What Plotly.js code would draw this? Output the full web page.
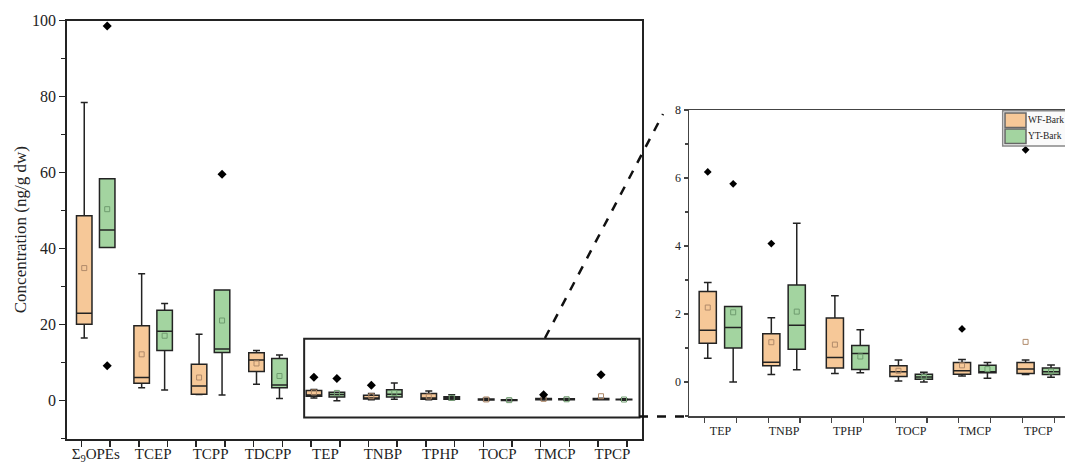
<!DOCTYPE html>
<html>
<head>
<meta charset="utf-8">
<script src="https://cdn.plot.ly/plotly-3.0.1.min.js"></script>
<style>html,body{margin:0;padding:0;background:#fff;}#chart{width:1065px;height:464px;}</style>
</head>
<body>
<div id="chart"></div>
<script>
// ---- data ----
const categories = ['Σ<sub>9</sub>OPEs','TCEP','TCPP','TDCPP','TEP','TNBP','TPHP','TOCP','TMCP','TPCP'];
const insetCategories = ['TEP','TNBP','TPHP','TOCP','TMCP','TPCP'];
const seriesNames = ['WF-Bark','YT-Bark'];

const wfUpper  = [78.5, 33.4, 17.5, 13.2, 2.93, 1.89, 2.54, 0.65, 0.66, 0.65];
const wfQ3     = [48.7, 19.7,  9.6, 12.6, 2.66, 1.42, 1.88, 0.48, 0.57, 0.57];
const wfMedian = [23.0,  6.1,  3.9, 10.7, 1.52, 0.58, 0.72, 0.30, 0.33, 0.38];
const wfQ1     = [20.1,  4.6,  1.7,  7.7, 1.14, 0.48, 0.41, 0.16, 0.23, 0.25];
const wfLower  = [16.5,  3.4,  1.6,  4.3, 0.70, 0.22, 0.25, 0.03, 0.18, 0.22];
const wfMean   = [34.9, 12.2,  6.1,  9.8, 2.19, 1.17, 1.10, 0.33, 0.49, 1.18];
const wfOutlierCat = ['TEP','TNBP','TMCP','TPCP'];
const wfOutlierVal = [6.18, 4.07, 1.56, 6.83];

const ytUpper  = [58.4, 25.6, 29.1, 12.0, 2.22, 4.67, 1.54, 0.29, 0.57, 0.50];
const ytQ3     = [58.4, 23.8, 29.1, 11.1, 2.22, 2.85, 1.07, 0.23, 0.49, 0.41];
const ytMedian = [44.9, 18.3, 13.6,  4.1, 1.60, 1.67, 0.84, 0.15, 0.30, 0.30];
const ytQ1     = [40.3, 13.2, 12.7,  3.4, 1.00, 0.96, 0.37, 0.08, 0.27, 0.22];
const ytLower  = [40.3,  2.8,  1.5,  0.6, 0.00, 0.36, 0.27, 0.00, 0.11, 0.14];
const ytMean   = [50.4, 17.1, 21.1,  6.5, 2.05, 2.07, 0.75, 0.15, 0.38, 0.31];
const ytOutlierCat = ['Σ<sub>9</sub>OPEs','Σ<sub>9</sub>OPEs','TCPP','TEP'];
const ytOutlierVal = [98.6, 9.2, 59.6, 5.83];

// ---- styling ----
const FONT = 'Liberation Serif, Times New Roman, serif';
const INK = '#232323';
const colors = {fill:['#f6c898','#a3d4a0'], mean:['#b08a6a','#6f9c6f']};
const OFF = 0.2, BOXW = 0.27;

const series = [
  {upper:wfUpper,q3:wfQ3,med:wfMedian,q1:wfQ1,lower:wfLower,mean:wfMean,oc:wfOutlierCat,ov:wfOutlierVal,sign:-1},
  {upper:ytUpper,q3:ytQ3,med:ytMedian,q1:ytQ1,lower:ytLower,mean:ytMean,oc:ytOutlierCat,ov:ytOutlierVal,sign:1}
];

const traces = [];
function addPanel(idxList, xa, ya, msize){
  series.forEach((s,k)=>{
    const xs = idxList.map((ci,j)=>j + s.sign*OFF);
    const pick = a => idxList.map(ci=>a[ci]);
    traces.push({type:'box', name:seriesNames[k], showlegend:false, xaxis:xa, yaxis:ya,
      x:xs, q1:pick(s.q1), median:pick(s.med), q3:pick(s.q3),
      lowerfence:pick(s.lower), upperfence:pick(s.upper),
      width:BOXW, whiskerwidth:0.45, boxpoints:false,
      fillcolor:colors.fill[k], line:{color:INK,width:1.5}, hoverinfo:'skip'});
    traces.push({type:'scatter', mode:'markers', showlegend:false, xaxis:xa, yaxis:ya,
      x:xs, y:pick(s.mean), marker:{symbol:'square-open',size:5,color:colors.mean[k],line:{width:1}}, hoverinfo:'skip'});
    const ox=[], oy=[];
    s.oc.forEach((c,j)=>{
      const ci = categories.indexOf(c);
      const pos = idxList.indexOf(ci);
      if(pos>=0){ ox.push(pos + s.sign*OFF); oy.push(s.ov[j]); }
    });
    traces.push({type:'scatter', mode:'markers', showlegend:false, xaxis:xa, yaxis:ya,
      x:ox, y:oy, marker:{symbol:'diamond',size:msize,color:'#000'}, hoverinfo:'skip'});
  });
}
const mainIdx = categories.map((c,i)=>i);
const insetIdx = insetCategories.map(c=>categories.indexOf(c));
addPanel(mainIdx,'x','y',7);
addPanel(insetIdx,'x2','y2',6);

const W=1065, H=464;
const px = v=>v/W, py = v=>1-v/H;

const layout = {
  width:W, height:H, margin:{l:0,r:0,t:0,b:0,pad:0},
  paper_bgcolor:'#fff', plot_bgcolor:'rgba(0,0,0,0)',
  font:{family:FONT,color:INK},
  showlegend:false,
  xaxis:{domain:[px(67.3),px(641.8)], anchor:'y', range:[-0.495,9.51],
    tickmode:'array', tickvals:mainIdx, ticktext:categories, ticks:'', ticklabelstandoff:0,
    minor:{tick0:-0.25,dtick:0.5,ticks:'outside',ticklen:6,tickwidth:1.5,tickcolor:INK},
    showline:true, mirror:true, linecolor:INK, linewidth:2, showgrid:false, zeroline:false,
    tickfont:{family:FONT,size:15,color:INK}, automargin:false},
  yaxis:{domain:[1-438.7/H,1-20.7/H], anchor:'x', range:[-10,100],
    tickmode:'linear', tick0:0, dtick:20, ticks:'outside', ticklen:6, tickwidth:1.5, tickcolor:INK,
    minor:{dtick:10,ticks:'outside',ticklen:4,tickwidth:1.5,tickcolor:INK},
    showline:true, mirror:true, linecolor:INK, linewidth:2, showgrid:false, zeroline:false,
    tickfont:{family:FONT,size:16,color:INK}, automargin:false,
    title:{text:'Concentration (ng/g dw)', font:{family:FONT,size:17,color:INK}, standoff:1}},
  xaxis2:{domain:[px(689),1], anchor:'y2', range:[-0.495,5.42],
    tickmode:'array', tickvals:insetCategories.map((c,i)=>i), ticktext:insetCategories, ticks:'', ticklabelstandoff:3,
    minor:{tick0:-0.25,dtick:0.5,ticks:'outside',ticklen:5,tickwidth:1.2,tickcolor:'#444'},
    showline:true, mirror:true, linecolor:'#444', linewidth:1.5, showgrid:false, zeroline:false,
    tickfont:{family:FONT,size:12,color:INK}, automargin:false},
  yaxis2:{domain:[1-416/H,1-110/H], anchor:'x2', range:[-1,8],
    tickmode:'linear', tick0:0, dtick:2, ticks:'outside', ticklen:4, tickwidth:1.2, tickcolor:'#444',
    minor:{dtick:1,ticks:'outside',ticklen:3,tickwidth:1.2,tickcolor:'#444'},
    showline:true, mirror:false, linecolor:'#444', linewidth:1.5, showgrid:false, zeroline:false,
    tickfont:{family:FONT,size:12,color:INK}, automargin:false},
  shapes:[
    {type:'rect', xref:'x', yref:'y', x0:3.63, x1:9.47, y0:-4.4, y1:16.3, line:{color:INK,width:2}},
    {type:'line', xref:'paper', yref:'paper', x0:px(545), y0:py(338), x1:px(663), y1:py(114), line:{color:'#111',width:2.5,dash:'dash'}},
    {type:'line', xref:'paper', yref:'paper', x0:px(639), y0:py(416.5), x1:px(689), y1:py(416.5), line:{color:'#111',width:2.5,dash:'dash'}},
    {type:'rect', xref:'paper', yref:'paper', x0:px(1002.7), x1:px(1070), y0:py(146), y1:py(110.7), line:{color:'#888',width:1.5}, fillcolor:'#fafafa'},
    {type:'rect', xref:'paper', yref:'paper', x0:px(1005), x1:px(1026), y0:py(127.5), y1:py(113), line:{color:'#666',width:1.5}, fillcolor:colors.fill[0]},
    {type:'rect', xref:'paper', yref:'paper', x0:px(1005), x1:px(1026), y0:py(143.5), y1:py(129), line:{color:'#666',width:1.5}, fillcolor:colors.fill[1]}
  ],
  annotations:[
    {xref:'paper', yref:'paper', x:px(1026.5), y:py(120), xanchor:'left', yanchor:'middle', showarrow:false, borderpad:0, text:seriesNames[0], font:{family:FONT,size:9.5,color:INK}},
    {xref:'paper', yref:'paper', x:px(1026.5), y:py(136), xanchor:'left', yanchor:'middle', showarrow:false, borderpad:0, text:seriesNames[1], font:{family:FONT,size:9.5,color:INK}}
  ]
};
Plotly.newPlot('chart', traces, layout, {staticPlot:true, displayModeBar:false});
</script>
</body>
</html>
